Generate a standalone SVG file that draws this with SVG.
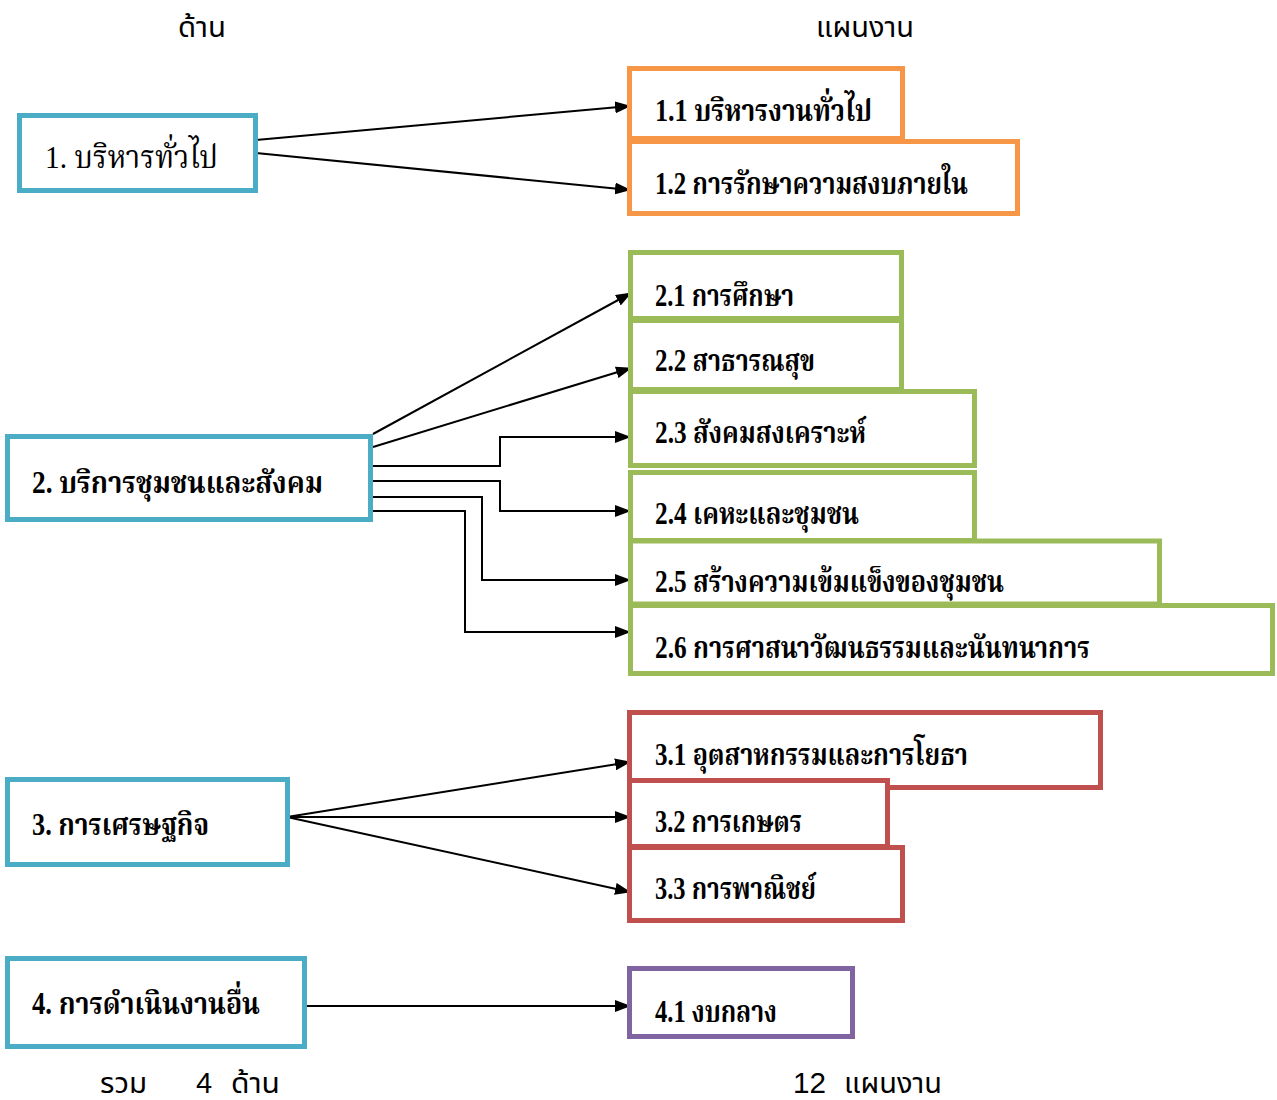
<svg xmlns="http://www.w3.org/2000/svg" width="1277" height="1100" viewBox="0 0 1277 1100">
<defs>
<marker id="ah" markerWidth="16" markerHeight="12" refX="15" refY="6" orient="auto" markerUnits="userSpaceOnUse">
<path d="M0,0 L16,6 L0,12 Z" fill="#000"/>
</marker>
<style>
.box{fill:#fff;stroke-width:5}
.b{stroke:#4BACC6}.o{stroke:#F79646}.g{stroke:#9BBB59}.r{stroke:#C0504D}.p{stroke:#8064A2}
.t{font-family:"Liberation Serif","Noto Serif Thai","Noto Sans Thai",serif;font-size:31px;font-weight:bold;fill:#000}
.tr{font-family:"Liberation Serif","Noto Serif Thai","Noto Sans Thai",serif;font-size:32px;fill:#000}
.h{font-family:"Liberation Sans","Noto Sans Thai",sans-serif;font-size:29px;fill:#000}
.c{fill:none;stroke:#000;stroke-width:2;marker-end:url(#ah)}
</style>
</defs>
<rect width="1277" height="1100" fill="#fff"/>
<text class="h" x="178" y="37" textLength="48" lengthAdjust="spacingAndGlyphs">ด้าน</text>
<text class="h" x="816" y="37" textLength="98" lengthAdjust="spacingAndGlyphs">แผนงาน</text>
<text class="h" x="100" y="1093" textLength="47" lengthAdjust="spacingAndGlyphs">รวม</text>
<text class="h" x="196" y="1093">4</text>
<text class="h" x="231" y="1093" textLength="49" lengthAdjust="spacingAndGlyphs">ด้าน</text>
<text class="h" x="793" y="1093" textLength="33" lengthAdjust="spacingAndGlyphs">12</text>
<text class="h" x="844" y="1093" textLength="98" lengthAdjust="spacingAndGlyphs">แผนงาน</text>

<g id="connectors">
<line class="c" x1="256" y1="140" x2="630" y2="106"/>
<line class="c" x1="256" y1="153" x2="630" y2="190"/>
<line class="c" x1="373" y1="434" x2="631" y2="293"/>
<line class="c" x1="373" y1="447" x2="631" y2="368"/>
<polyline class="c" points="373,466 500,466 500,437 630,437"/>
<polyline class="c" points="371,481 500,481 500,511 630,511"/>
<polyline class="c" points="371,497 482,497 482,580 630,580"/>
<polyline class="c" points="371,511 465,511 465,632 630,632"/>
<line class="c" x1="287" y1="817" x2="630" y2="762"/>
<line class="c" x1="287" y1="817" x2="630" y2="817"/>
<line class="c" x1="287" y1="817" x2="630" y2="892"/>
<line class="c" x1="305" y1="1006" x2="630" y2="1006"/>
</g>

<g id="n1"><rect class="box b" x="19.5" y="115.5" width="236" height="75"/><text class="tr" x="45" y="168" textLength="173" lengthAdjust="spacingAndGlyphs">1. บริหารทั่วไป</text></g>
<g id="n11"><rect class="box o" x="629.5" y="68.5" width="273" height="70"/><text class="t" x="655" y="121" textLength="217" lengthAdjust="spacingAndGlyphs">1.1 บริหารงานทั่วไป</text></g>
<g id="n12"><rect class="box o" x="629.5" y="141.5" width="388" height="72"/><text class="t" x="655" y="194" textLength="313" lengthAdjust="spacingAndGlyphs">1.2 การรักษาความสงบภายใน</text></g>

<g id="n2"><rect class="box b" x="7.5" y="436.5" width="363" height="83"/><text class="t" x="32" y="493" textLength="291" lengthAdjust="spacingAndGlyphs">2. บริการชุมชนและสังคม</text></g>
<g id="n21"><rect class="box g" x="630.5" y="252.5" width="271" height="66"/><text class="t" x="655" y="306" textLength="139" lengthAdjust="spacingAndGlyphs">2.1 การศึกษา</text></g>
<g id="n22"><rect class="box g" x="630.5" y="320.5" width="271" height="69"/><text class="t" x="655" y="371" textLength="160" lengthAdjust="spacingAndGlyphs">2.2 สาธารณสุข</text></g>
<g id="n23"><rect class="box g" x="630.5" y="391.5" width="344" height="74"/><text class="t" x="655" y="443" textLength="211" lengthAdjust="spacingAndGlyphs">2.3 สังคมสงเคราะห์</text></g>
<g id="n24"><rect class="box g" x="630.5" y="472.5" width="344" height="68"/><text class="t" x="655" y="524" textLength="204" lengthAdjust="spacingAndGlyphs">2.4 เคหะและชุมชน</text></g>
<g id="n25"><rect class="box g" x="630.5" y="541" width="529" height="63"/><text class="t" x="655" y="592" textLength="349" lengthAdjust="spacingAndGlyphs">2.5 สร้างความเข้มแข็งของชุมชน</text></g>
<g id="n26"><rect class="box g" x="630.5" y="605.5" width="642" height="68"/><text class="t" x="655" y="658" textLength="435" lengthAdjust="spacingAndGlyphs">2.6 การศาสนาวัฒนธรรมและนันทนาการ</text></g>

<g id="n3"><rect class="box b" x="7.5" y="779.5" width="280" height="85"/><text class="t" x="32" y="835" textLength="177" lengthAdjust="spacingAndGlyphs">3. การเศรษฐกิจ</text></g>
<g id="n31"><rect class="box r" x="629.5" y="712.5" width="471" height="75"/><text class="t" x="655" y="765" textLength="313" lengthAdjust="spacingAndGlyphs">3.1 อุตสาหกรรมและการโยธา</text></g>
<g id="n32"><rect class="box r" x="629.5" y="780.5" width="258" height="66"/><text class="t" x="655" y="832" textLength="147" lengthAdjust="spacingAndGlyphs">3.2 การเกษตร</text></g>
<g id="n33"><rect class="box r" x="629.5" y="847.5" width="273" height="73"/><text class="t" x="655" y="899" textLength="161" lengthAdjust="spacingAndGlyphs">3.3 การพาณิชย์</text></g>

<g id="n4"><rect class="box b" x="7.5" y="958.5" width="297" height="88"/><text class="t" x="32" y="1014" textLength="228" lengthAdjust="spacingAndGlyphs">4. การดำเนินงานอื่น</text></g>
<g id="n41"><rect class="box p" x="629.5" y="968.5" width="223" height="68"/><text class="t" x="655" y="1022" textLength="122" lengthAdjust="spacingAndGlyphs">4.1 งบกลาง</text></g>
</svg>
